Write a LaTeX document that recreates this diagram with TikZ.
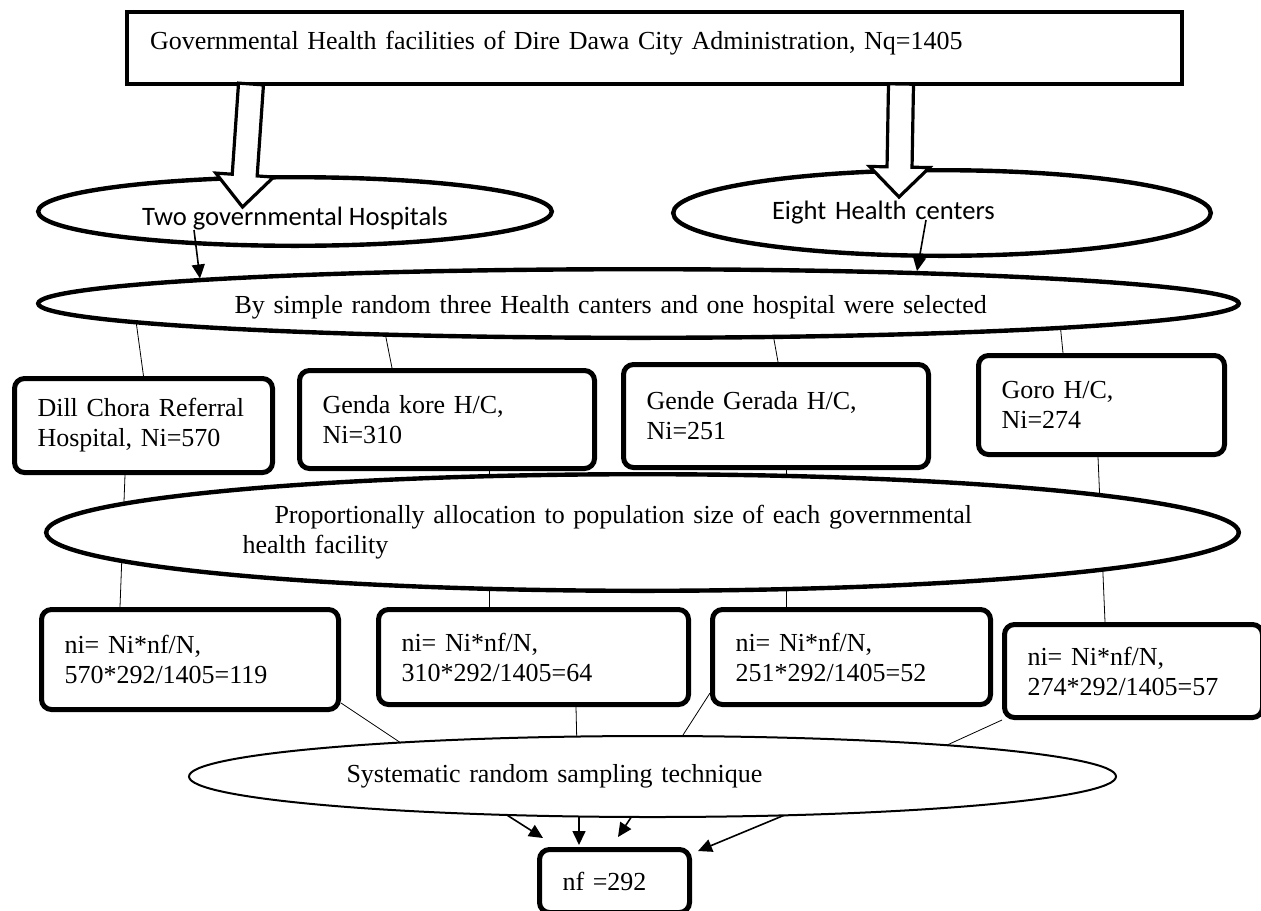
\documentclass[tikz,border=0pt]{standalone}
\usepackage{fontspec}
\setmainfont{Liberation Serif}
\newfontfamily\bodysans{Carlito}
\usetikzlibrary{calc,positioning,shapes.geometric,arrows.meta,backgrounds}

\begin{document}
\begin{tikzpicture}[
                x=0.5pt, y=-0.5pt,
                font=\fontsize{13}{15}\selectfont,
                sans/.style={font=\fontsize{13.3}{15}\selectfont\bodysans},
                top/.style={draw,line width=2pt,fill=white,inner xsep=11.5pt,text width=504.5pt,minimum height=36pt,text depth=8pt,align=left},
                oval/.style={ellipse,draw,line width=2.2pt,fill=white,inner sep=0pt},
                thinoval/.style={ellipse,draw,line width=1pt,fill=white,inner sep=0pt},
                site/.style={draw,line width=2.5pt,rounded corners=5pt,fill=white,inner xsep=11.5pt,align=left},
                link/.style={line width=0.8pt},
                pointer/.style={line width=0.8pt,-{Triangle[length=7pt,width=6.5pt]}},
                hollow/.style={draw,line width=1.6pt,fill=white,line join=miter}
            ]
                \useasboundingbox (0,0) rectangle (1261,910);
                \clip (0,0) rectangle (1261,910);

                \node[top] (gov) at (654.5,48) {Governmental Health facilities of Dire Dawa City Administration, Nq=1405};

                \node[oval,sans,minimum width=256.8pt,minimum height=34.3pt,text height=16pt] (hosp) at (295,211.5) {Two governmental Hospitals};
                \node[oval,sans,minimum width=268.8pt,minimum height=42.8pt,text width=170pt,align=left] (eight) at (942,213) {Eight Health centers};
                \node[oval,minimum width=600.3pt,minimum height=34.3pt,text width=404pt,text height=13pt,align=left] (sel) at (638.5,303.5) {By simple random three Health canters and one hospital were selected};

                \node[site,text width=106pt,minimum height=47pt]   (dill)   at (143.5,425.5) {Dill Chora Referral\\Hospital, Ni=570};
                \node[site,text width=124.5pt,minimum height=49pt] (genda)  at (447,419.5)   {Genda kore H/C,\\Ni=310};
                \node[site,text width=129.5pt,minimum height=51.5pt] (gerada) at (776,416)   {Gende Gerada H/C,\\Ni=251};
                \node[site,text width=100pt,minimum height=49.5pt] (goro)   at (1101.5,405)  {Goro H/C,\\Ni=274};

                \node[oval,minimum width=596.3pt,minimum height=58.3pt,text width=400pt,align=left] (prop) at (642.5,532.5) {\hspace*{16pt}Proportionally allocation to population size of each governmental\\health facility};

                \node[site,text width=125.5pt,minimum height=50pt]   (nA) at (190,659.5)  {ni= Ni*nf/N,\\570*292/1405=119};
                \node[site,text width=132pt,minimum height=47.5pt]   (nB) at (533.5,657)  {ni= Ni*nf/N,\\310*292/1405=64};
                \node[site,text width=116pt,minimum height=47.5pt]   (nC) at (851.5,657)  {ni= Ni*nf/N,\\251*292/1405=52};
                \node[site,text width=106pt,minimum height=46.5pt]   (nD) at (1133.5,671) {ni= Ni*nf/N,\\274*292/1405=57};

                \node[thinoval,minimum width=463.5pt,minimum height=40.5pt,text width=306pt,align=left] (sys) at (652.5,776.5) {Systematic random sampling technique};

                \node[site,text width=52pt,minimum height=31.5pt] (nf) at (614.5,881) {nf =292};

                % lines that run behind the shapes
                \begin{scope}[on background layer,link]
                    \draw ($(sel.center)+(-504,6.5)$) -- (dill.north);
                    \draw ($(sel.center)+(-256,16.5)$) -- ($(genda.north)+(-55,0)$);
                    \draw ($(sel.center)+(132,16.5)$)  -- ($(gerada.north)+(2,0)$);
                    \draw ($(sel.center)+(421,14.5)$)  -- ($(goro.north)+(-38.5,0)$);

                    \draw ($(dill.south)+(-18.5,0)$)  -- ($(nA.north)+(-70,0)$);
                    \draw ($(genda.south)+(42,0)$)    -- ($(nB.north)+(-44.5,0)$);
                    \draw ($(gerada.south)+(10,0)$)   -- ($(nC.north)+(-65.5,0)$);
                    \draw ($(goro.south)+(-3.5,0)$)   -- ($(nD.north)+(-28.5,0)$);

                    \draw ($(nA.south east)+(0,-9)$)  -- ($(sys.center)+(-239.5,-25.5)$);
                    \draw ($(nB.south)+(42.5,0)$)     -- ($(sys.center)+(-75.5,-26.5)$);
                    \draw ($(nC.south west)+(0,-14)$) -- ($(sys.center)+(21.5,-27.5)$);
                    \draw (nD.south west)             -- ($(sys.center)+(281.5,-25.5)$);

                    \draw[pointer] ($(sys.center)+(-159,30)$)    -- ($(nf.north west)+(6,-9)$);
                    \draw[pointer] ($(sys.center)+(-73.5,28.5)$) -- ($(nf.north)+(-35.5,-2)$);
                    \draw[pointer] ($(sys.center)+(-16.5,33.5)$) -- ($(nf.north)+(3.5,-10)$);
                    \draw[pointer] ($(sys.center)+(139.5,35.5)$) -- ($(nf.north east)+(6,4)$);
                \end{scope}

                % hollow block arrows
                \coordinate (lt) at ($(gov.south west)+(126,-2)$);
                \coordinate (lp) at ($(hosp.north)+(-52.5,32)$);
                \coordinate (lb) at ($(lp)!16pt!(lt)$);
                \coordinate (rt) at ($(gov.south west)+(776,-2)$);
                \coordinate (rp) at ($(eight.north)+(-43,29)$);
                \coordinate (rb) at ($(rp)!15pt!(rt)$);

                \draw[hollow] ($(lt)!6.25pt!-90:(lp)$) -- ($(lb)!6.25pt!90:(lt)$) -- ($(lb)!14.5pt!90:(lt)$) -- (lp)
                    -- ($(lb)!14.5pt!-90:(lt)$) -- ($(lb)!6.25pt!-90:(lt)$) -- ($(lt)!6.25pt!90:(lp)$) -- cycle;
                \draw[hollow] ($(rt)!6.25pt!-90:(rp)$) -- ($(rb)!6.25pt!90:(rt)$) -- ($(rb)!15pt!90:(rt)$) -- (rp)
                    -- ($(rb)!15pt!-90:(rt)$) -- ($(rb)!6.25pt!-90:(rt)$) -- ($(rt)!6.25pt!90:(rp)$) -- cycle;

                % thin arrows
                \coordinate (hs) at ($(hosp.center)+(-101,18.5)$);
                \coordinate (es) at ($(eight.center)+(-16,7)$);
                \draw[pointer] (hs) -- ($(sel.center)+(-438.5,-25)$);
                \draw[pointer] (es) -- ($(sel.center)+(278.5,-32.4)$);
            \end{tikzpicture}
\end{document}
